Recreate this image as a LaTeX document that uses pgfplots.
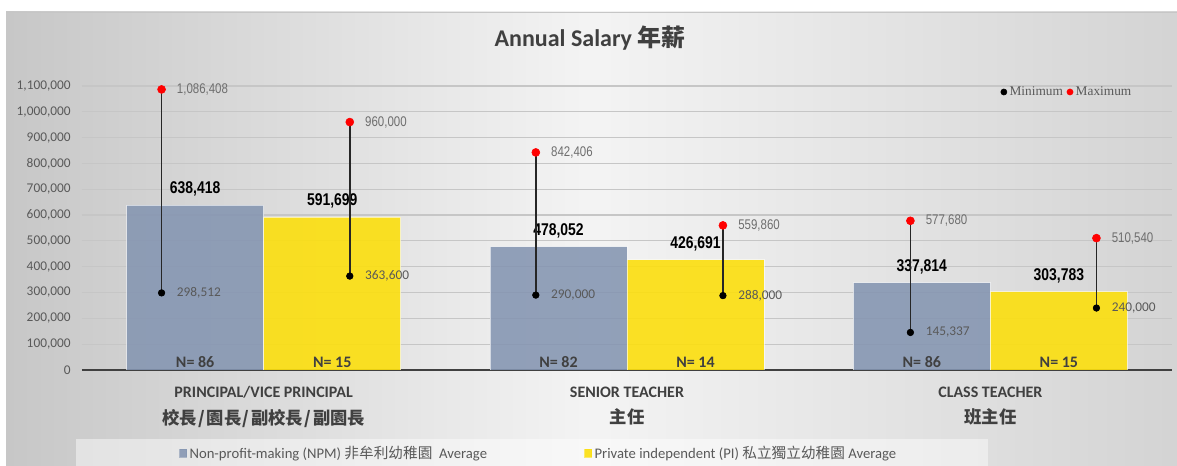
\documentclass[border=0pt]{standalone}
\usepackage{fontspec}
\usepackage{pgfplots}
\pgfplotsset{compat=1.18}
\usepackage{pgfplotstable}
\setmainfont{Carlito}
\newfontfamily\cjk{Noto Sans CJK TC}
\newfontfamily\narrow[FakeStretch=0.82]{Liberation Sans}
\newfontfamily\serifleg{Liberation Serif}

\definecolor{npm}{HTML}{8495B1}
\definecolor{pi}{HTML}{FCDF0E}
\definecolor{txt}{HTML}{404040}
\definecolor{tick}{HTML}{595959}
\definecolor{lbl}{HTML}{6E6E6E}

\pgfplotsset{/pgf/number format/.cd, fixed, precision=0, 1000 sep={,}, assume math mode=true}

% averages and sample sizes
\pgfplotstableread{
x npm npmN pi piN base
0 638418 86 591699 15 0
1 478052 82 426691 14 0
2 337814 86 303783 15 0
}\avg

% min / max per group (x = where the whisker sits)
\pgfplotstableread{
x min max
-0.281 298512 1086408
0.237 363600 960000
0.749 290000 842406
1.264 288000 559860
1.780 145337 577680
2.292 240000 510540
}\minmax

\pgfplotsset{frame/.style={at={(61.5pt,72pt)}, anchor=south west, scale only axis,
    width=817.5pt, height=222.75pt, xmin=-0.5, xmax=2.5, ymin=0, ymax=1150000}}
\newcommand{\cjsl}{\kern1.2pt/\kern1.2pt}

\begin{document}
\begin{tikzpicture}
\useasboundingbox (0,0) rectangle (882.75pt,349.5pt);
\fill[white] (0,0) rectangle (882.75pt,349.5pt);
\shade[left color=gray!44, right color=gray!34, middle color=gray!9] (4.5pt,0) rectangle (882.75pt,340.5pt);
\draw[gray!45, line width=0.6pt] (4.5pt,340.5pt) -- (882.75pt,340.5pt);
\fill[white, opacity=0.45] (57pt,0) rectangle (741pt,20.25pt);

\node[font=\bfseries\fontsize{18}{20}\selectfont, text=txt] at (442.5pt,321pt) {Annual Salary {\cjk 年薪}};

\begin{axis}[frame,
    axis x line*=bottom, axis y line*=left,
    y axis line style={draw=none},
    x axis line style={draw=black!75, line width=1.2pt},
    major tick length=0pt,
    ytick={0,100000,...,1100000},
    scaled y ticks=false,
    yticklabel style={font=\fontsize{10}{12}\selectfont, text=tick, xshift=-5pt},
    ymajorgrids, grid style={draw=gray!45, line width=0.9pt},
    xtick={0,1,2},
    xticklabels={{PRINCIPAL/VICE PRINCIPAL\\[2pt]\cjk\fontsize{13}{18.5}\selectfont 校長\cjsl 園長\cjsl 副校長\cjsl 副園長},
                 {SENIOR TEACHER\\[2pt]\cjk\fontsize{13}{18.5}\selectfont 主任},
                 {CLASS TEACHER\\[2pt]\cjk\fontsize{13}{18.5}\selectfont 班主任}},
    xticklabel style={align=center, text=txt, font=\bfseries\fontsize{12}{18}\selectfont, yshift=-9pt},
    legend style={at={(0.0853,-0.2795)}, anchor=west, draw=none, fill=none,
        font=\fontsize{11}{13}\selectfont, text=tick, legend columns=2},
]
\addplot[ybar, bar width=0.377, bar shift=-0.1885, fill=npm, fill opacity=0.88,
    draw=white, draw opacity=0.6, line width=0.5pt,
    nodes near coords={\pgfmathprintnumber{\pgfplotspointmeta}},
    nodes near coords style={font=\narrow\bfseries\fontsize{12.75}{14}\selectfont, text=black,
        anchor=south, xshift=-51.4pt, yshift=3pt, text opacity=1},
    legend image code/.code={\fill[npm] (0pt,-3pt) rectangle (5.25pt,3pt);}]
    table[x=x, y=npm] \avg;
\addlegendentry{\makebox[294pt][l]{Non-profit-making (NPM) {\cjk 非牟利幼稚園}\ \ Average}}
\addplot[ybar, bar width=0.377, bar shift=0.1885, fill=pi, fill opacity=0.9,
    draw=white, draw opacity=0.6, line width=0.5pt,
    nodes near coords={\pgfmathprintnumber{\pgfplotspointmeta}},
    nodes near coords style={font=\narrow\bfseries\fontsize{12.75}{14}\selectfont, text=black,
        anchor=south, xshift=51.4pt, yshift=3pt, text opacity=1},
    legend image code/.code={\fill[pi] (0pt,-3pt) rectangle (5.25pt,3pt);}]
    table[x=x, y=pi] \avg;
\addlegendentry{Private independent (PI) {\cjk 私立獨立幼稚園} Average}
% N= labels at the foot of the bars
\addplot[ybar, bar width=0.377, bar shift=-0.1885, draw=none, fill=none, forget plot,
    point meta=explicit, nodes near coords={N= \pgfmathprintnumber{\pgfplotspointmeta}},
    nodes near coords style={font=\bfseries\fontsize{12}{14}\selectfont, text=txt, anchor=south,
        xshift=-51.4pt, yshift=-2pt}]
    table[x=x, y=base, meta=npmN] \avg;
\addplot[ybar, bar width=0.377, bar shift=0.1885, draw=none, fill=none, forget plot,
    point meta=explicit, nodes near coords={N= \pgfmathprintnumber{\pgfplotspointmeta}},
    nodes near coords style={font=\bfseries\fontsize{12}{14}\selectfont, text=txt, anchor=south,
        xshift=51.4pt, yshift=-2pt}]
    table[x=x, y=base, meta=piN] \avg;
\end{axis}

\begin{axis}[frame, hide axis,
    legend style={at={(0.839,0.936)}, anchor=west, draw=none, fill=none,
        font=\serifleg\fontsize{10}{11}\selectfont, text=tick, legend columns=2,
        /tikz/every even column/.append style={column sep=1pt}},
    legend image code/.code={\draw[#1, mark size=2.3pt] plot coordinates {(0pt,0pt)};},
]
\addplot[only marks, mark=none, forget plot,
    error bars/.cd, y dir=plus, y explicit, error mark=none,
    error bar style={line width=1.1pt, draw=black!85, solid}]
    table[x=x, y=min, y error plus expr=\thisrow{max}-\thisrow{min}] \minmax;
\addplot[only marks, mark=*, mark size=2.5pt, black, point meta=y,
    nodes near coords={\pgfmathprintnumber{\pgfplotspointmeta}},
    nodes near coords style={anchor=west, xshift=8pt, font=\fontsize{10}{12}\selectfont, text=tick}]
    table[x=x, y=min] \minmax;
\addlegendentry{Minimum}
\addplot[only marks, mark=*, mark size=3pt, red, point meta=y,
    nodes near coords={\pgfmathprintnumber{\pgfplotspointmeta}},
    nodes near coords style={anchor=west, xshift=8pt, font=\narrow\fontsize{10.5}{12}\selectfont, text=lbl}]
    table[x=x, y=max] \minmax;
\addlegendentry{Maximum}
\end{axis}
\end{tikzpicture}
\end{document}
